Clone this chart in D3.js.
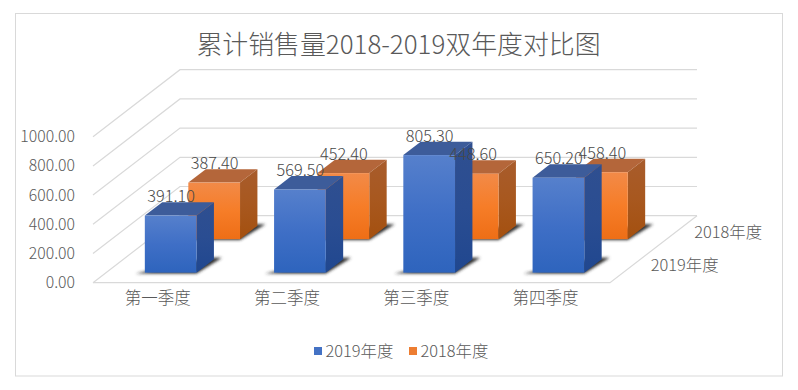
<!DOCTYPE html>
<html>
<head>
<meta charset="utf-8">
<script src="https://cdn.jsdelivr.net/npm/d3@7"></script>
<style>
  html, body { margin: 0; background: #fff; }
  svg { display: block; }
  text { font-family: 'Noto Sans CJK SC', 'Liberation Sans', sans-serif; fill: #595959; font-weight: 300; }
  .axis path { display: none; }
</style>
</head>
<body>
<div class="canvas"></div>
<script>
//* ======== DATA ==========
const titleText = '累计销售量2018-2019双年度对比图'
const categories = ['第一季度', '第二季度', '第三季度', '第四季度']
const seriesNames = ['2019年度', '2018年度']
const values2019 = [391.1, 569.5, 805.3, 650.2]
const values2018 = [387.4, 452.4, 448.6, 458.4]
const yTicks = [0, 200, 400, 600, 800, 1000]

//* ======== CHART USER INTERFACE ==========
const svgDims = { width: 798, height: 390 }
const floor = { left: 93, right: 610, front: 282.7 }
const depthVec = { x: 87, y: -67 }

const svg = d3
  .select('.canvas')
  .append('svg')
  .attr('width', svgDims.width)
  .attr('height', svgDims.height)

svg
  .append('rect')
  .attr('x', 15.5)
  .attr('y', 13.5)
  .attr('width', 767)
  .attr('height', 362.5)
  .attr('fill', '#fff')
  .attr('stroke', '#d9d9d9')

//* ======== SCALES ==========
const xScale = d3
  .scaleBand()
  .domain(categories)
  .range([floor.left, floor.right])
  .paddingInner(0.6)
  .paddingOuter(0.3)
const xStepScale = d3.scaleBand().domain(categories).range([floor.left, floor.right])
const yScale = d3.scaleLinear().domain([0, 1000]).range([floor.front, 136.7])
const depthScale = d3
  .scaleBand()
  .domain(seriesNames)
  .range([0, 1])
  .paddingInner(0.6)
  .paddingOuter(0.3)

// project a floor position (x, depth 0-1) and a value into the picture
const px = (x, d) => x + d * depthVec.x
const py = (v, d) => yScale(v) + d * depthVec.y

//* ======== GRADIENTS ==========
const defs = svg.append('defs')
const gradient = (id, top, mid, bottom) => {
  const g = defs
    .append('linearGradient')
    .attr('id', id)
    .attr('x1', 0)
    .attr('y1', 0)
    .attr('x2', 0)
    .attr('y2', 1)
  g.append('stop').attr('offset', 0).attr('stop-color', top)
  g.append('stop').attr('offset', 0.5).attr('stop-color', mid)
  g.append('stop').attr('offset', 1).attr('stop-color', bottom)
}
gradient('blueFront', '#5680cc', '#3f6fc6', '#2e64bd')
gradient('blueSide', '#2f4f90', '#2a4d92', '#20478f')
gradient('orangeFront', '#f28a48', '#f67d28', '#ee6e16')
gradient('orangeSide', '#a85c2c', '#a8581f', '#a4500f')

defs
  .append('filter')
  .attr('id', 'shadowBlur')
  .attr('x', '-20%')
  .attr('y', '-50%')
  .attr('width', '140%')
  .attr('height', '200%')
  .append('feGaussianBlur')
  .attr('stdDeviation', 1.8)

//* ======== GRIDLINES ==========
const grid = svg
  .append('g')
  .attr('fill', 'none')
  .attr('stroke', '#d9d9d9')
  .attr('stroke-width', 1.2)

yTicks.forEach(t => {
  grid
    .append('path')
    .attr('d', d3.line()([
      [px(floor.left, 0), py(t, 0)],
      [px(floor.left, 1), py(t, 1)],
      [px(floor.right, 1), py(t, 1)],
    ]))
})
grid
  .append('path')
  .attr('d', d3.line()([
    [px(floor.left, 0), py(0, 0)],
    [px(floor.right, 0), py(0, 0)],
    [px(floor.right, 1), py(0, 1)],
  ]))

//* ======== BARS ==========
const bars = [
  { name: seriesNames[1], values: values2018, color: 'orange', topFill: '#b4663a' },
  { name: seriesNames[0], values: values2019, color: 'blue', topFill: '#3d5c9a' },
]
const labels = []

bars.forEach(s => {
  const d0 = depthScale(s.name)
  const d1 = d0 + depthScale.bandwidth()

  s.values.forEach((v, i) => {
    const x0 = xScale(categories[i])
    const x1 = x0 + xScale.bandwidth()
    const g = svg.append('g')
    const poly = pts => d3.line()(pts) + 'Z'

    g.append('path')
      .attr('d', poly([
        [px(x0, d0) - 9, py(0, d0) + 0.8],
        [px(x1, d0), py(0, d0) + 0.8],
        [px(x1, d1) + 8, py(0, d1) - 1.5],
        [px(x1, d1) - 4, py(0, d1) - 1.5],
      ]))
      .attr('fill', '#2e2e2e')
      .attr('filter', 'url(#shadowBlur)')

    // top face
    g.append('path')
      .attr('d', poly([
        [px(x0, d0), py(v, d0)],
        [px(x1, d0), py(v, d0)],
        [px(x1, d1), py(v, d1)],
        [px(x0, d1), py(v, d1)],
      ]))
      .attr('fill', s.topFill)

    // side face
    g.append('path')
      .attr('d', poly([
        [px(x1, d0), py(v, d0)],
        [px(x1, d1), py(v, d1)],
        [px(x1, d1), py(0, d1)],
        [px(x1, d0), py(0, d0)],
      ]))
      .attr('fill', `url(#${s.color}Side)`)

    // front face
    g.append('rect')
      .attr('x', px(x0, d0))
      .attr('y', py(v, d0))
      .attr('width', x1 - x0)
      .attr('height', yScale(0) - yScale(v))
      .attr('fill', `url(#${s.color}Front)`)

    labels.push({
      x: px(x0, d0) + (x1 - x0) / 2 + 0.5,
      y: py(v, d0) - 13.5,
      text: v.toFixed(2),
    })
  })
})

//* ======== AXES ==========
const yAxis = d3
  .axisLeft(yScale)
  .tickValues(yTicks)
  .tickFormat(d => d.toFixed(2))
  .tickSize(0)
  .tickPadding(18)
const xAxis = d3.axisBottom(xStepScale).tickSize(0).tickPadding(10)

const yAxisGroup = svg
  .append('g')
  .attr('class', 'axis')
  .attr('transform', `translate(${floor.left}, 0)`)
  .call(yAxis)
const xAxisGroup = svg
  .append('g')
  .attr('class', 'axis')
  .attr('transform', `translate(0, ${floor.front})`)
  .call(xAxis)

yAxisGroup.selectAll('text').style('font-size', '15.8px')
xAxisGroup.selectAll('text').style('font-size', '16.5px')

// depth axis, next to the right edge of the floor
svg
  .append('g')
  .selectAll('text')
  .data(seriesNames)
  .enter()
  .append('text')
  .attr('x', d => px(floor.right, depthScale(d) + depthScale.bandwidth() / 2) + 19)
  .attr('y', d => py(0, depthScale(d) + depthScale.bandwidth() / 2) + 5.5)
  .style('font-size', '16.4px')
  .text(d => d)

//* ======== DATA LABELS ==========
svg
  .append('g')
  .attr('class', 'data-labels')
  .selectAll('text')
  .data(labels)
  .enter()
  .append('text')
  .attr('x', d => d.x)
  .attr('y', d => d.y)
  .attr('text-anchor', 'middle')
  .style('font-size', '16.3px')
  .style('fill', '#484848')
  .text(d => d.text)

//* ======== TITLE AND LEGEND ==========
svg
  .append('text')
  .attr('x', 398.5)
  .attr('y', 54)
  .attr('text-anchor', 'middle')
  .style('font-size', '25.9px')
  .text(titleText)

const legendX = [314, 409]
const legendColor = ['#4472c4', '#ed7d31']
const legend = svg
  .append('g')
  .selectAll('g')
  .data(seriesNames)
  .enter()
  .append('g')
  .attr('transform', (d, i) => `translate(${legendX[i]}, 351)`)
legend
  .append('rect')
  .attr('y', -4)
  .attr('width', 8)
  .attr('height', 8)
  .attr('fill', (d, i) => legendColor[i])
legend
  .append('text')
  .attr('x', 11.5)
  .attr('y', 5.5)
  .style('font-size', '16.4px')
  .text(d => d)
</script>
</body>
</html>
